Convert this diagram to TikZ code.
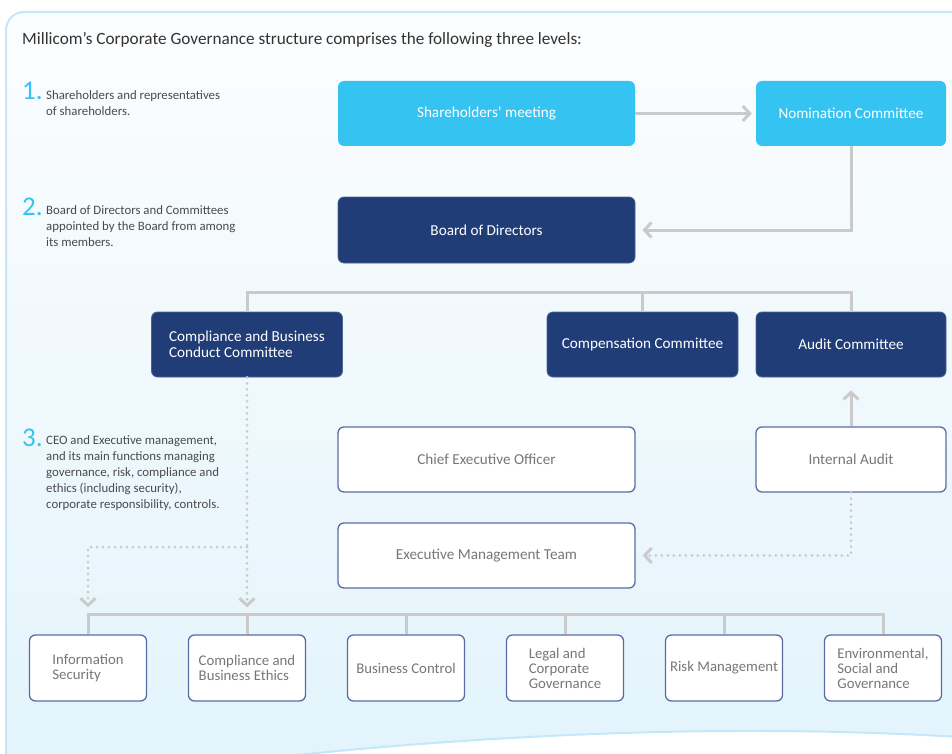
\documentclass[tikz,border=0pt]{standalone}
\usepackage{fontspec}
\setmainfont{Carlito}
\usetikzlibrary{arrows.meta}
\definecolor{cyanC}{HTML}{35C3F1}
\definecolor{navyC}{HTML}{203D77}
\definecolor{slateC}{HTML}{5B6CA5}
\definecolor{greyT}{HTML}{777777}
\definecolor{lineC}{HTML}{CACACA}
\definecolor{descT}{HTML}{4A4A4A}
\definecolor{frameC}{HTML}{C3E8F9}
\definecolor{bgTop}{HTML}{FCFDFE}
\definecolor{bgBot}{HTML}{E3F4FC}
\tikzset{
  box/.style={rounded corners=6pt, inner sep=2pt, align=center},
  cyanbox/.style={box, fill=cyanC, text=white, font=\fontsize{15.2}{16}\selectfont},
  navybox/.style={box, fill=navyC, draw=navyC!80!white, line width=0.8pt, text=white, font=\fontsize{15.2}{16}\selectfont},
  whitebox/.style={box, fill=white, draw=slateC, line width=1.3pt, text=greyT, font=\fontsize{15.2}{16}\selectfont},
  unitbox/.style={whitebox, minimum width=117pt, minimum height=66pt, align=left, font=\fontsize{14.8}{15}\selectfont},
  conn/.style={draw=lineC, line width=3pt},
  dots/.style={draw=lineC, line width=3pt, line cap=round, dash pattern=on 0pt off 6pt},
  chev/.style={-{Straight Barb[length=7pt, width=15pt]}},
  lvlnum/.style={anchor=base west, text=cyanC, inner sep=0pt, font=\fontsize{27}{27}\selectfont},
  lvltext/.style={anchor=north west, inner sep=0pt, align=left, text=descT, font=\fontsize{12.8}{16}\selectfont}
}
\begin{document}
\begin{tikzpicture}[x=1pt, y=-1pt]
\useasboundingbox (0,0) rectangle (952,754);
\clip (0,0) rectangle (952,754);
% background frame
\fill[white] (0,0) rectangle (952,754);
\shade[top color=bgTop, bottom color=bgBot]
  (6,760) -- (6,30) arc[start angle=180, end angle=90, radius=18pt] -- (960,12) -- (960,737)
  .. controls (760,725) and (520,730) .. (250,760) -- cycle;
\draw[frameC, line width=2pt]
  (6,760) -- (6,30) arc[start angle=180, end angle=90, radius=18pt] -- (960,12);
\draw[frameC, line width=2pt] (960,737) .. controls (760,725) and (520,730) .. (250,760);

% title
\node[anchor=base west, inner sep=0pt, text=black!80, font=\fontsize{17.2}{18}\selectfont] (title) at (22,45)
  {Millicom's Corporate Governance structure comprises the following three levels:};

% levels
\node[lvlnum] (n1) at (22,100) {1.};
\node[lvltext] (t1) at (46,90) {Shareholders and representatives\\of shareholders.};
\node[lvlnum] (n2) at (22,215) {2.};
\node[lvltext] (t2) at (46,205) {Board of Directors and Committees\\appointed by the Board from among\\its members.};
\node[lvlnum] (n3) at (22,446) {3.};
\node[lvltext] (t3) at (46,435) {CEO and Executive management,\\and its main functions managing\\governance, risk, compliance and\\ethics (including security),\\corporate responsibility, controls.};

% level 1
\node[cyanbox, minimum width=297pt, minimum height=65pt] (sh) at (486.5,113.5) {Shareholders' meeting};
\node[cyanbox, minimum width=190pt, minimum height=65pt] (nom) at (851,113.5) {Nomination Committee};
% level 2
\node[navybox, minimum width=297pt, minimum height=66pt] (bod) at (486.5,230) {Board of Directors};
\node[navybox, minimum width=191pt, minimum height=65pt, align=left] (cbc) at (247,344.5) {Compliance and Business\\Conduct Committee};
\node[navybox, minimum width=191pt, minimum height=65pt] (comp) at (642.5,344.5) {Compensation Committee};
\node[navybox, minimum width=190pt, minimum height=65pt] (aud) at (851,344.5) {Audit Committee};
% level 3
\node[whitebox, minimum width=297pt, minimum height=65pt] (ceo) at (486.5,459.5) {Chief Executive Officer};
\node[whitebox, minimum width=190pt, minimum height=65pt] (ia) at (851,459.5) {Internal Audit};
\node[whitebox, minimum width=297pt, minimum height=65pt] (emt) at (486.5,555.5) {Executive Management Team};

\node[unitbox] (b1) at (88,668) {Information\\Security};
\node[unitbox] (b2) at (247,668) {Compliance and\\Business Ethics};
\node[unitbox] (b3) at (406,668) {Business Control};
\node[unitbox] (b4) at (565,668) {Legal and\\Corporate\\Governance};
\node[unitbox] (b5) at (724,668) {Risk Management};
\node[unitbox] (b6) at (883,668) {Environmental,\\Social and\\Governance};

% connectors
\draw[conn, chev, shorten >=4pt] (sh.east) -- (nom.west);
\draw[conn, chev, shorten >=7pt] (nom.south) |- (bod.east);
\draw[conn] (cbc.north) -- ++(0,-19) -| (aud.north);
\draw[conn] (comp.north) -- ++(0,-19);
\draw[conn, chev, shorten >=13pt] (ia.north) -- (aud.south);
\draw[dots, chev, shorten >=7pt] (ia.south) |- (emt.east);
\draw[dots, chev, shorten >=27pt] (cbc.south) -- (b2.north);
\coordinate (split) at (247,547);
\draw[dots, chev, shorten >=27pt] (split) -| (b1.north);
\draw[conn] (b1.north) -- ++(0,-20) -| (b6.north);
\foreach \b in {b2,b3,b4,b5} \draw[conn] (\b.north) -- ++(0,-20);
\end{tikzpicture}
\end{document}
